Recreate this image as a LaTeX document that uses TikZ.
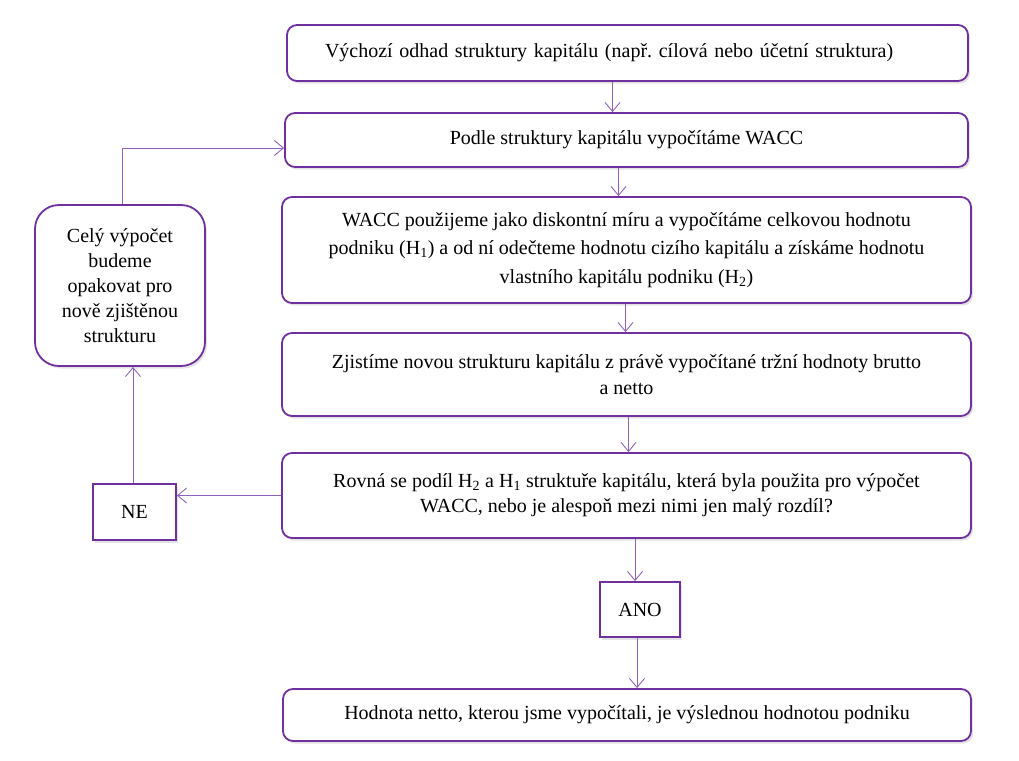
\documentclass[tikz,border=0pt]{standalone}
\usepackage{fontspec}
\setmainfont{Liberation Serif}
\usetikzlibrary{positioning,arrows.meta,shadows}
\definecolor{boxpurple}{HTML}{7030A0}
\definecolor{linepurple}{HTML}{9062C0}
\tikzset{
flowbox/.style={draw=boxpurple, line width=1.8pt, rounded corners=10pt, fill=white,
  drop shadow={shadow xshift=2pt, shadow yshift=-2.5pt, opacity=0.22},
  align=center, inner sep=0pt, font=\fontsize{20}{25}\selectfont},
answer/.style={flowbox, rounded corners=0pt},
link/.style={draw=linepurple, line width=0.9pt, -{Straight Barb[length=9pt,width=15pt]}}
}
\frenchspacing

\begin{document}
\begin{tikzpicture}[x=1pt,y=-1pt]
\useasboundingbox (0,0) rectangle (1019,760);
% steps
\node[flowbox, minimum width=681pt, minimum height=56pt, text width=605pt, align=left] (start) at (627.5,53)
  {Výchozí odhad struktury kapitálu (např. cílová nebo účetní struktura)};
\node[flowbox, minimum width=683pt, minimum height=54pt] (wacc) at (626.5,140)
  {Podle struktury kapitálu vypočítáme WACC};
\node[flowbox, minimum width=689pt, minimum height=106pt, font=\fontsize{20}{28.5}\selectfont] (value) at (626.5,250)
  {WACC použijeme jako diskontní míru a vypočítáme celkovou hodnotu\\
   podniku (H\textsubscript{1}) a od ní odečteme hodnotu cizího kapitálu a získáme hodnotu\\
   vlastního kapitálu podniku (H\textsubscript{2})};
\node[flowbox, minimum width=689pt, minimum height=83pt, font=\fontsize{20}{26}\selectfont] (newstruct) at (626.5,374.5)
  {Zjistíme novou strukturu kapitálu z právě vypočítané tržní hodnoty brutto\\ a netto};
\node[flowbox, minimum width=689pt, minimum height=85pt] (check) at (626.5,495.5)
  {Rovná se podíl H\textsubscript{2} a H\textsubscript{1} struktuře kapitálu, která byla použita pro výpočet\\
   WACC, nebo je alespoň mezi nimi jen malý rozdíl?};
\node[flowbox, minimum width=688pt, minimum height=52pt] (result) at (627,715)
  {Hodnota netto, kterou jsme vypočítali, je výslednou hodnotou podniku};
\node[flowbox, rounded corners=24pt, minimum width=170pt, minimum height=161pt] (repeat) at (120,285.5)
  {Celý výpočet\\ budeme\\ opakovat pro\\ nově zjištěnou\\ strukturu};
% answers
\node[answer, minimum width=83pt, minimum height=56pt] (ne) at (134.5,512) {NE};
\node[answer, minimum width=80pt, minimum height=55pt] (ano) at (640,609.5) {ANO};

\draw[link] ([xshift=-15pt]start.south) -- ([xshift=-15pt]start.south |- wacc.north);
\draw[link] ([xshift=-8pt]wacc.south) -- ([xshift=-8pt]wacc.south |- value.north);
\draw[link] ([xshift=-1pt]value.south) -- ([xshift=-1pt]value.south |- newstruct.north);
\draw[link] ([xshift=2pt]newstruct.south) -- ([xshift=2pt]newstruct.south |- check.north);
\draw[link] ([xshift=-5pt]ano.north |- check.south) -- ([xshift=-5pt]ano.north);
\draw[link] ([xshift=-3pt]ano.south) -- ([xshift=-3pt]ano.south |- result.north);
\draw[link] (check.west) -- (check.west -| ne.east);
\draw[link] ([xshift=-1.5pt]ne.north) -- ([xshift=-1.5pt]ne.north |- repeat.south);
\draw[link] ([xshift=2pt]repeat.north) -- ([xshift=2pt,yshift=-8pt]repeat.north |- wacc.west) -- ([yshift=-8pt]wacc.west);
\end{tikzpicture}
\end{document}
